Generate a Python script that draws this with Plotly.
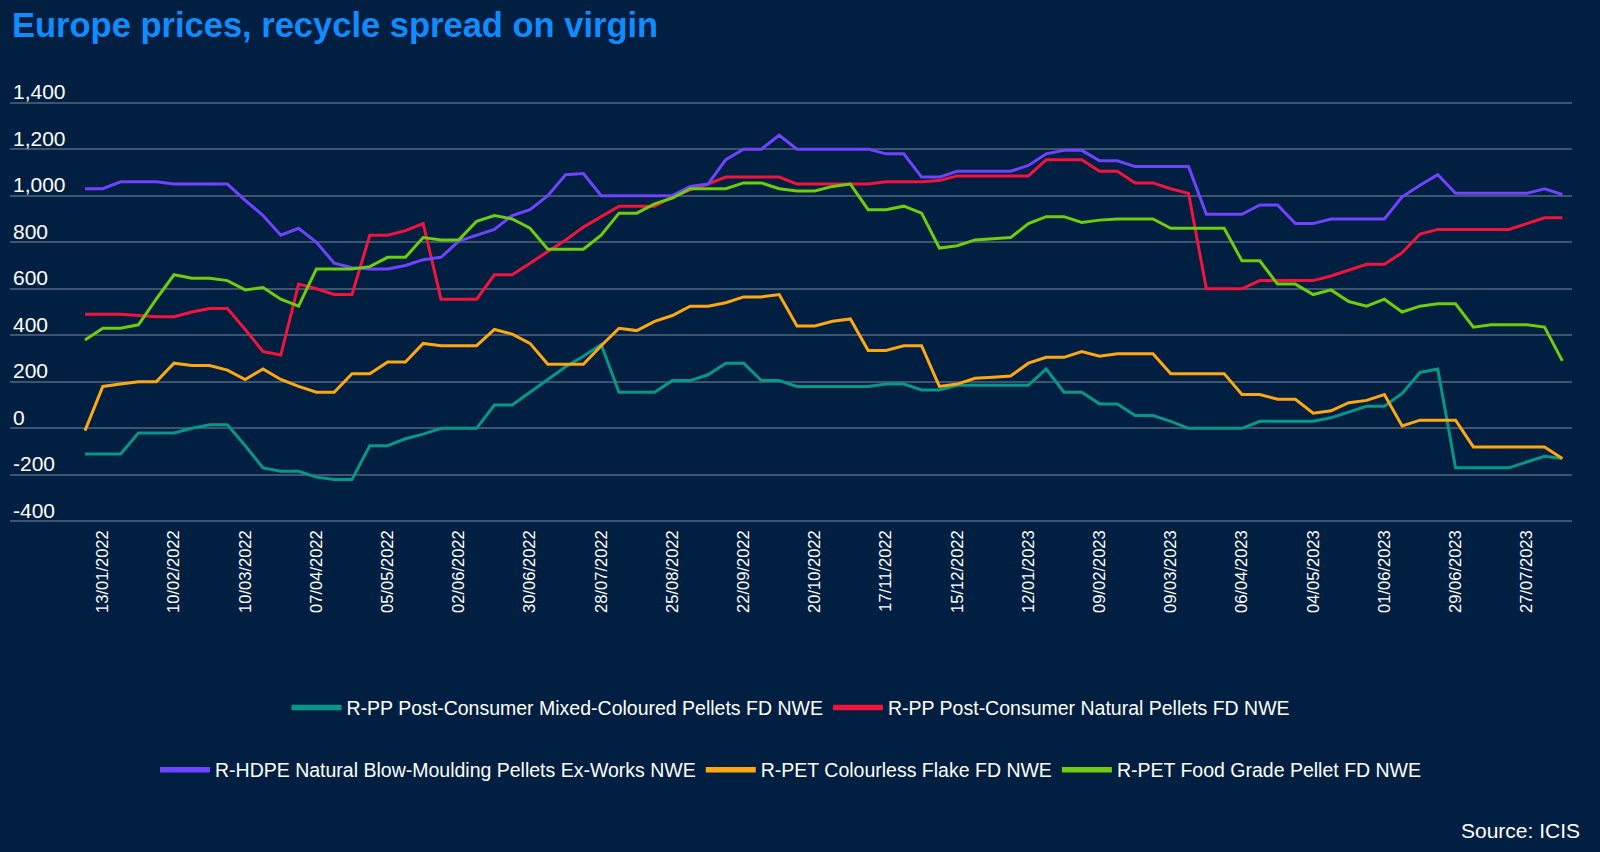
import pandas as pd
import plotly.graph_objects as go

# ---------------- data ----------------
dates = pd.date_range("2022-01-06", periods=84, freq="7D")
x_tick_dates = pd.date_range("2022-01-13", "2023-07-27", freq="28D")
x_tick_labels = [d.strftime("%d/%m/%Y") for d in x_tick_dates]

series_names = [
    "R-PP Post-Consumer Mixed-Coloured Pellets FD NWE",
    "R-PP Post-Consumer Natural Pellets FD NWE",
    "R-HDPE Natural Blow-Moulding Pellets Ex-Works NWE",
    "R-PET Colourless Flake FD NWE",
    "R-PET Food Grade Pellet FD NWE",
]

rpp_mixed = [
    -110, -110, -110, -20, -20, -20, 0, 15, 15, -75,
    -170, -185, -185, -210, -220, -220, -75, -75, -45, -25,
    0, 0, 0, 100, 100, 155, 210, 265, 310, 360,
    155, 155, 155, 205, 205, 230, 280, 280, 205, 205,
    180, 180, 180, 180, 180, 190, 190, 165, 165, 185,
    185, 185, 185, 185, 255, 155, 155, 105, 105, 55,
    55, 30, 0, 0, 0, 0, 30, 30, 30, 30,
    45, 70, 95, 95, 150, 240, 255, -170, -170, -170,
    -170, -145, -120, -130,
]

rpp_natural = [
    490, 490, 490, 485, 480, 480, 500, 515, 515, 425,
    330, 315, 620, 600, 575, 575, 830, 830, 850, 880,
    555, 555, 555, 660, 660, 710, 760, 810, 865, 910,
    955, 955, 955, 995, 1025, 1050, 1080, 1080, 1080, 1080,
    1050, 1050, 1050, 1050, 1050, 1060, 1060, 1060, 1065, 1085,
    1085, 1085, 1085, 1085, 1155, 1155, 1155, 1105, 1105, 1055,
    1055, 1030, 1010, 600, 600, 600, 635, 635, 635, 635,
    655, 680, 705, 705, 755, 835, 855, 855, 855, 855,
    855, 880, 905, 905,
]

rhdpe = [
    1030, 1030, 1060, 1060, 1060, 1050, 1050, 1050, 1050, 980,
    915, 830, 860, 800, 710, 690, 685, 685, 700, 725,
    735, 805, 830, 855, 915, 940, 1000, 1090, 1095, 1000,
    1000, 1000, 1000, 1000, 1040, 1050, 1155, 1200, 1200, 1260,
    1200, 1200, 1200, 1200, 1200, 1180, 1180, 1080, 1080, 1105,
    1105, 1105, 1105, 1130, 1180, 1195, 1195, 1150, 1150, 1125,
    1125, 1125, 1125, 920, 920, 920, 960, 960, 880, 880,
    900, 900, 900, 900, 995, 1045, 1090, 1010, 1010, 1010,
    1010, 1010, 1030, 1005,
]

rpet_flake = [
    -10, 180, 190, 200, 200, 280, 270, 270, 250, 210,
    255, 210, 180, 155, 155, 235, 235, 285, 285, 365,
    355, 355, 355, 425, 405, 365, 275, 275, 275, 355,
    430, 420, 460, 485, 525, 525, 540, 565, 565, 575,
    440, 440, 460, 470, 335, 335, 355, 355, 180, 190,
    215, 220, 225, 280, 305, 305, 330, 310, 320, 320,
    320, 235, 235, 235, 235, 145, 145, 125, 125, 65,
    75, 110, 120, 145, 10, 35, 35, 35, -80, -80,
    -80, -80, -80, -130,
]

rpet_food = [
    380, 430, 430, 445, 555, 660, 645, 645, 635, 595,
    605, 555, 525, 685, 685, 685, 695, 735, 735, 820,
    810, 810, 890, 915, 900, 860, 770, 770, 770, 830,
    925, 925, 965, 990, 1030, 1030, 1030, 1055, 1055, 1030,
    1020, 1020, 1040, 1050, 940, 940, 955, 925, 775, 785,
    810, 815, 820, 880, 910, 910, 885, 895, 900, 900,
    900, 860, 860, 860, 860, 720, 720, 620, 620, 575,
    595, 545, 525, 555, 500, 525, 535, 535, 435, 445,
    445, 445, 435, 290,
]

y_tick_values = [-400, -200, 0, 200, 400, 600, 800, 1000, 1200, 1400]
y_tick_labels = ["-400", "-200", "0", "200", "400", "600", "800", "1,000", "1,200", "1,400"]

# ---------------- style ----------------
BG = "#011f40"
GRID = "#3e5571"
TITLE_COLOR = "#108cff"
TEXT = "#ffffff"
FONT = "Liberation Sans, Arial, sans-serif"
colors = ["#07968a", "#f2143d", "#6f43ff", "#ffa812", "#6dcd0e"]
legend_ids = ["legend", "legend", "legend2", "legend2", "legend2"]
values = [rpp_mixed, rpp_natural, rhdpe, rpet_flake, rpet_food]

fig = go.Figure()
for name, vals, col in zip(series_names, values, colors):
    fig.add_trace(go.Scatter(
        x=dates, y=vals, mode="lines", name=name,
        line=dict(color=col, width=3), showlegend=False,
    ))
# legend entries (thicker swatches, no data)
for name, col, leg in zip(series_names, colors, legend_ids):
    fig.add_trace(go.Scatter(
        x=[None], y=[None], mode="lines", name=name,
        line=dict(color=col, width=5.5), legend=leg, showlegend=True,
    ))

legend_common = dict(
    orientation="h", x=0.5, xanchor="center", yanchor="middle",
    font=dict(family=FONT, size=19.5, color=TEXT),
    bgcolor="rgba(0,0,0,0)", itemwidth=50,
)

fig.update_layout(
    width=1600, height=852,
    paper_bgcolor=BG, plot_bgcolor=BG,
    margin=dict(l=10, r=28, t=98, b=326),
    title=dict(
        text="Europe prices, recycle spread on virgin",
        x=12 / 1600, xanchor="left", xref="container",
        y=1 - 24.5 / 852, yanchor="middle", yref="container",
        font=dict(family=FONT, size=34.5, color=TITLE_COLOR, weight=700),
    ),
    xaxis=dict(
        type="date",
        range=["2021-12-07 12:00", "2023-08-13 19:00"],
        tickmode="array", tickvals=x_tick_dates, ticktext=x_tick_labels,
        tickangle=-90,
        showgrid=False, zeroline=False, showline=False, ticks="",
        tickfont=dict(family=FONT, size=16.5, color=TEXT),
    ),
    yaxis=dict(
        range=[-420, 1420],
        tickmode="array", tickvals=y_tick_values, ticktext=y_tick_labels,
        ticklabelposition="inside top", ticklabeloverflow="allow",
        ticklabelshift=4,
        showgrid=True, gridcolor=GRID, gridwidth=1.5,
        zeroline=False, showline=False, ticks="",
        tickfont=dict(family=FONT, size=21, color=TEXT),
    ),
    legend=dict(y=-0.425, **legend_common),
    legend2=dict(y=-0.570, **legend_common),
    annotations=[dict(
        text="Source: ICIS", xref="paper", yref="paper",
        x=1.0064, y=-0.7126, xanchor="right", yanchor="middle",
        showarrow=False, font=dict(family=FONT, size=21, color=TEXT),
    )],
    showlegend=True,
)

fig.write_html(
    "out.html",
    config={"displayModeBar": False},
    post_script="document.body.style.margin='0';document.body.style.overflow='hidden';",
)
